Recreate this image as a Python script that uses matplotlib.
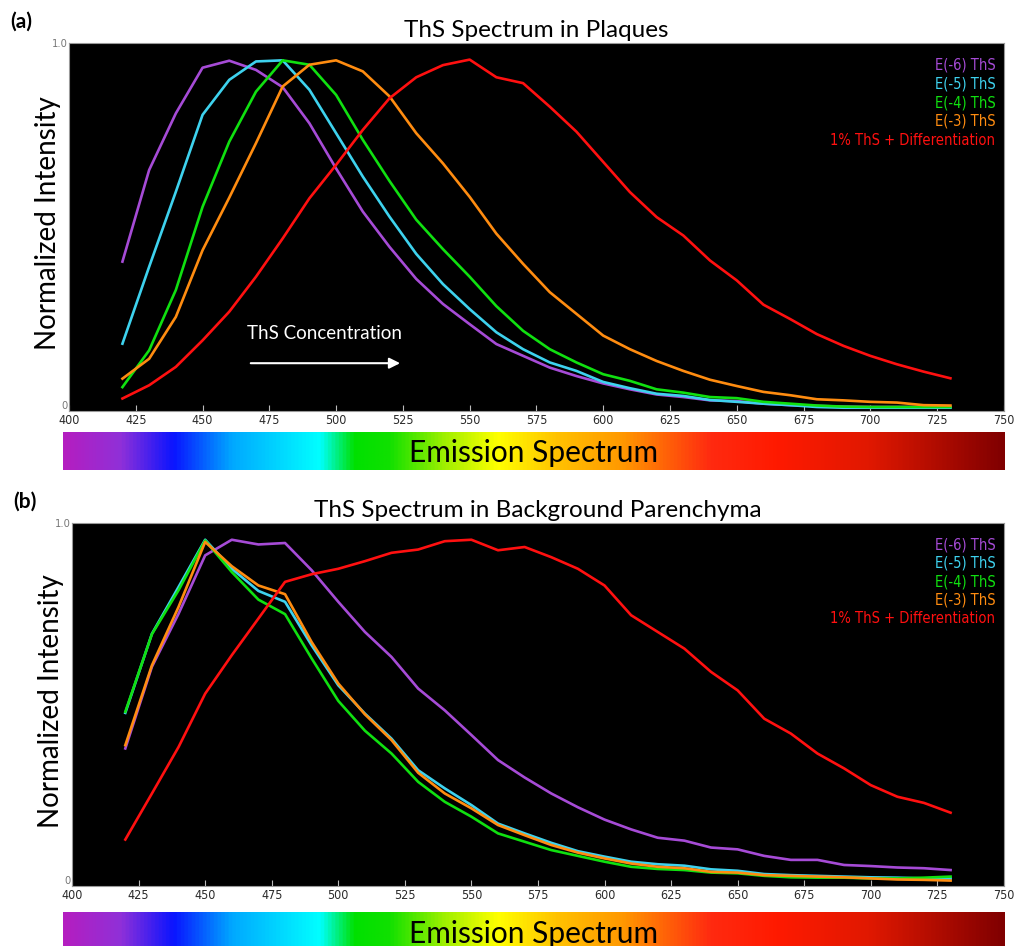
import matplotlib
matplotlib.use("Agg")
import matplotlib.pyplot as plt
import numpy as np
from matplotlib.colors import LinearSegmentedColormap

# wavelengths (nm), one reading every 10 nm
wavelength = list(range(420, 740, 10))

# panel (a): ThS spectrum in plaques
plaque_e6 = [0.406, 0.655, 0.809, 0.933, 0.952, 0.927, 0.880, 0.782, 0.659, 0.542, 0.446,
             0.359, 0.291, 0.236, 0.182, 0.150, 0.118, 0.095, 0.075, 0.059, 0.045, 0.038,
             0.029, 0.027, 0.020, 0.016, 0.014, 0.012, 0.011, 0.011, 0.011, 0.011]
plaque_e5 = [0.183, 0.392, 0.596, 0.805, 0.900, 0.950, 0.953, 0.873, 0.755, 0.637, 0.528,
             0.427, 0.345, 0.277, 0.214, 0.168, 0.132, 0.109, 0.079, 0.062, 0.047, 0.041,
             0.030, 0.025, 0.020, 0.016, 0.011, 0.009, 0.009, 0.009, 0.009, 0.009]
plaque_e4 = [0.065, 0.165, 0.329, 0.555, 0.732, 0.868, 0.953, 0.941, 0.859, 0.737, 0.625,
             0.520, 0.440, 0.365, 0.285, 0.218, 0.168, 0.132, 0.100, 0.082, 0.059, 0.050,
             0.038, 0.035, 0.025, 0.020, 0.015, 0.012, 0.011, 0.011, 0.011, 0.011]
plaque_e3 = [0.088, 0.142, 0.256, 0.437, 0.580, 0.728, 0.882, 0.941, 0.953, 0.923, 0.855,
             0.755, 0.673, 0.582, 0.482, 0.400, 0.323, 0.264, 0.205, 0.168, 0.136, 0.109,
             0.085, 0.068, 0.052, 0.043, 0.032, 0.029, 0.025, 0.023, 0.016, 0.015]
plaque_diff = [0.034, 0.070, 0.120, 0.192, 0.270, 0.365, 0.469, 0.578, 0.669, 0.764, 0.850,
               0.907, 0.940, 0.955, 0.907, 0.891, 0.827, 0.759, 0.677, 0.595, 0.527, 0.477,
               0.409, 0.355, 0.289, 0.250, 0.209, 0.177, 0.150, 0.127, 0.107, 0.089]

# panel (b): ThS spectrum in background parenchyma
bg_e6 = [0.379, 0.604, 0.750, 0.911, 0.954, 0.941, 0.945, 0.870, 0.783, 0.700, 0.631,
         0.544, 0.484, 0.416, 0.347, 0.299, 0.255, 0.217, 0.183, 0.156, 0.133, 0.125,
         0.106, 0.101, 0.083, 0.072, 0.072, 0.058, 0.055, 0.051, 0.049, 0.044]
bg_e5 = [0.477, 0.695, 0.824, 0.954, 0.874, 0.813, 0.783, 0.663, 0.553, 0.475, 0.406,
         0.319, 0.269, 0.223, 0.172, 0.145, 0.119, 0.096, 0.081, 0.067, 0.060, 0.056,
         0.046, 0.042, 0.033, 0.030, 0.028, 0.026, 0.024, 0.023, 0.021, 0.021]
bg_e4 = [0.480, 0.694, 0.815, 0.952, 0.865, 0.789, 0.749, 0.627, 0.510, 0.428, 0.365,
         0.287, 0.232, 0.191, 0.145, 0.122, 0.099, 0.083, 0.067, 0.053, 0.047, 0.044,
         0.037, 0.035, 0.028, 0.024, 0.023, 0.023, 0.021, 0.021, 0.023, 0.026]
bg_e3 = [0.388, 0.608, 0.769, 0.948, 0.881, 0.828, 0.804, 0.672, 0.558, 0.473, 0.402,
         0.312, 0.255, 0.214, 0.168, 0.140, 0.113, 0.092, 0.076, 0.062, 0.053, 0.049,
         0.039, 0.037, 0.030, 0.028, 0.026, 0.024, 0.021, 0.018, 0.017, 0.015]
bg_diff = [0.128, 0.255, 0.383, 0.530, 0.636, 0.737, 0.838, 0.859, 0.874, 0.895, 0.918,
           0.927, 0.950, 0.954, 0.925, 0.934, 0.906, 0.874, 0.828, 0.746, 0.700, 0.654,
           0.590, 0.539, 0.461, 0.420, 0.365, 0.324, 0.278, 0.246, 0.229, 0.202]

series_labels = ["E(-6) ThS", "E(-5) ThS", "E(-4) ThS", "E(-3) ThS", "1% ThS + Differentiation"]
series_colors = ["#a64bd6", "#3ed2ee", "#10e010", "#ff8c10", "#ff1010"]
x_ticks = [400, 425, 450, 475, 500, 525, 550, 575, 600, 625, 650, 675, 700, 725, 750]

# spectrum bar colour stops (wavelength, colour)
spectrum_stops = [(397, "#b41ec0"), (418, "#9030d8"), (438, "#0a14ff"), (460, "#00a8ff"),
                  (493, "#00ffff"), (506, "#00e000"), (519, "#10e000"), (540, "#a0f000"),
                  (560, "#ffff00"), (583, "#ffc000"), (607, "#ff9800"), (640, "#ff2a10"),
                  (665, "#ff1a00"), (700, "#e01800"), (750, "#800000")]

main_font = ["Lato", "DejaVu Sans"]
narrow = dict(family="DejaVu Sans", stretch="condensed")


def draw_panel(fig, rect, curves, title, tag, arrow=False):
    ax = fig.add_axes(rect)
    ax.set_facecolor("black")
    for y, c in zip(curves, series_colors):
        ax.plot(wavelength, y, color=c, lw=1.9, solid_joinstyle="round")
    ax.set_xlim(400, 750)
    ax.set_ylim(0, 1)
    ax.set_xticks(x_ticks)
    ax.set_xticklabels([str(t) for t in x_ticks], fontsize=9, color="#2a2a2a", **narrow)
    ax.set_yticks([0, 1])
    ylabs = ax.set_yticklabels(["0", "1.0"], fontsize=8, color="#777777", **narrow)
    ylabs[0].set_va("bottom")
    ax.tick_params(axis="x", direction="in", length=4, color="#bbbbbb", pad=2)
    ax.tick_params(axis="y", length=0, pad=1)
    for s in ax.spines.values():
        s.set_color("#999999")
        s.set_linewidth(0.8)
    ax.set_ylabel("Normalized Intensity", family=main_font, fontsize=20)
    ax.yaxis.set_label_coords(-0.009, 0.51)
    ax.set_title(title, family=main_font, fontsize=17.5, pad=4)
    ax.text(-0.063, 1.03, tag, transform=ax.transAxes, family=main_font,
            fontsize=15, fontweight="bold", va="bottom")

    ys = [0.94, 0.889, 0.838, 0.787, 0.736]
    for lab, c, yy in zip(series_labels, series_colors, ys):
        ax.text(0.991, yy, lab, transform=ax.transAxes, ha="right", va="center",
                color=c, fontsize=10.5, **narrow)

    if arrow:
        ax.text(495.5, 0.21, "ThS Concentration", color="white", family=main_font,
                fontsize=13.5, ha="center", va="center")
        ax.annotate("", xy=(525, 0.13), xytext=(467, 0.13),
                    arrowprops=dict(arrowstyle="-|>", color="white", lw=1.5,
                                    mutation_scale=16))
    return ax


def draw_spectrum(fig, rect):
    cax = fig.add_axes(rect)
    lo, hi = spectrum_stops[0][0], spectrum_stops[-1][0]
    cmap = LinearSegmentedColormap.from_list(
        "spec", [((w - lo) / (hi - lo), c) for w, c in spectrum_stops])
    grad = np.linspace(0, 1, 512)[None, :]
    cax.imshow(grad, cmap=cmap, aspect="auto", extent=[lo, hi, 0, 1])
    cax.set_xlim(lo, hi)
    cax.set_axis_off()
    cax.text(0.5, 0.45, "Emission Spectrum", transform=cax.transAxes, ha="center",
             va="center", family=main_font, fontsize=21.5, color="black")


fig = plt.figure(figsize=(10.15, 9.46), dpi=100)

draw_panel(fig, [0.068, 0.5655, 0.921, 0.389],
           [plaque_e6, plaque_e5, plaque_e4, plaque_e3, plaque_diff],
           "ThS Spectrum in Plaques", "(a)", arrow=True)
draw_spectrum(fig, [0.062, 0.503, 0.928, 0.040])

draw_panel(fig, [0.071, 0.0634, 0.918, 0.3837],
           [bg_e6, bg_e5, bg_e4, bg_e3, bg_diff],
           "ThS Spectrum in Background Parenchyma", "(b)")
draw_spectrum(fig, [0.062, -0.007, 0.928, 0.043])

plt.savefig("out.png", dpi=100, facecolor="white")
